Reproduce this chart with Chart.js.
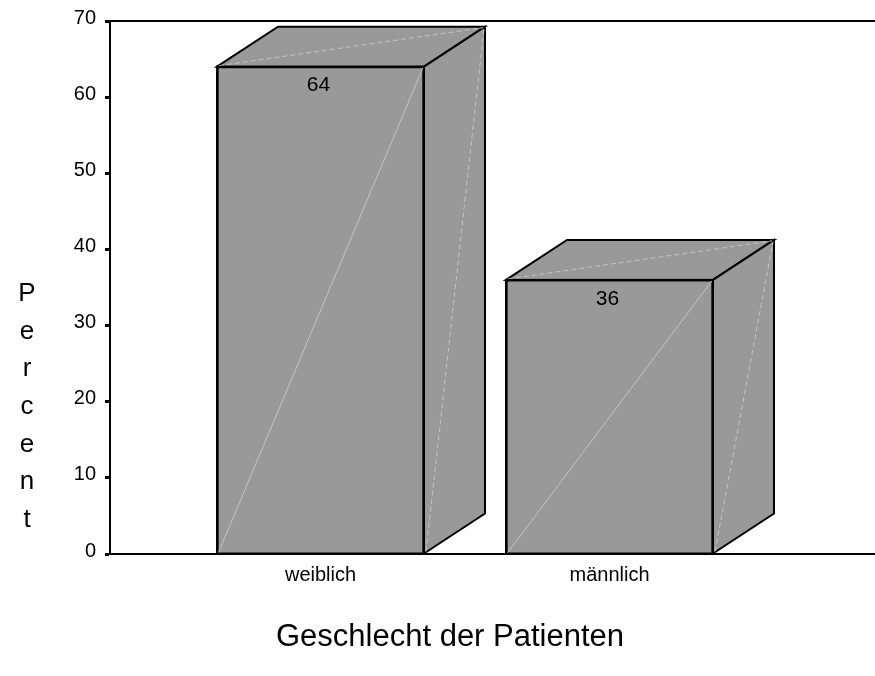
<!DOCTYPE html>
<html>
<head>
<meta charset="utf-8">
<script src="https://cdn.jsdelivr.net/npm/chart.js@4"></script>
<style>
  html, body { margin: 0; padding: 0; background: #fff; }
  #wrap { width: 875px; height: 676px; }
</style>
</head>
<body>
<div id="wrap"><canvas id="chart" width="875" height="676"></canvas></div>
<script>
const categories = ['weiblich', 'männlich'];
const percentValues = [64, 36];
const yTicks = [0, 10, 20, 30, 40, 50, 60, 70];
const yTitle = 'Percent';
const xTitle = 'Geschlecht der Patienten';

const FONT = "'Liberation Sans', Arial, sans-serif";
const DEPTH_X = 61;
const DEPTH_Y = -40;

// 3D-Quader: Deckfläche, Seitenfläche, helle Diagonalen, Wertbeschriftung
const box3d = {
  id: 'box3d',
  afterDatasetsDraw(chart) {
    const ctx = chart.ctx;
    const meta = chart.getDatasetMeta(0);
    meta.data.forEach((bar, i) => {
      const { x, y, base, width } = bar.getProps(['x', 'y', 'base', 'width'], true);
      const l = x - width / 2;
      const r = x + width / 2;
      ctx.save();
      ctx.fillStyle = '#999999';
      ctx.strokeStyle = '#000';
      ctx.lineWidth = 2;

      // Deckfläche
      ctx.beginPath();
      ctx.moveTo(l, y);
      ctx.lineTo(l + DEPTH_X, y + DEPTH_Y);
      ctx.lineTo(r + DEPTH_X, y + DEPTH_Y);
      ctx.lineTo(r, y);
      ctx.closePath();
      ctx.fill();
      ctx.stroke();

      // Seitenfläche
      ctx.beginPath();
      ctx.moveTo(r, y);
      ctx.lineTo(r + DEPTH_X, y + DEPTH_Y);
      ctx.lineTo(r + DEPTH_X, base + DEPTH_Y);
      ctx.lineTo(r, base);
      ctx.closePath();
      ctx.fill();
      ctx.stroke();

      // helle Diagonalen
      ctx.lineWidth = 1;
      ctx.strokeStyle = '#c4c4c4';
      ctx.beginPath();
      ctx.moveTo(l + 1, base);
      ctx.lineTo(r - 1, y + 1);
      ctx.stroke();
      ctx.setLineDash([5, 3]);
      ctx.beginPath();
      ctx.moveTo(l + 2, y - 1);
      ctx.lineTo(r + DEPTH_X - 2, y + DEPTH_Y + 1);
      ctx.stroke();
      ctx.beginPath();
      ctx.moveTo(r + 2, base - 2);
      ctx.lineTo(r + DEPTH_X - 1, y + DEPTH_Y + 2);
      ctx.stroke();
      ctx.setLineDash([]);

      // Kanten nachziehen
      ctx.strokeStyle = '#000';
      ctx.lineWidth = 2;
      ctx.strokeRect(l, y, width, base - y);

      ctx.fillStyle = '#000';
      ctx.font = '21px ' + FONT;
      ctx.textAlign = 'center';
      ctx.textBaseline = 'middle';
      ctx.fillText(String(percentValues[i]), x - 2, y + 19);
      ctx.restore();
    });
  },
  afterDraw(chart) {
    const ctx = chart.ctx;
    ctx.save();
    ctx.fillStyle = '#000';
    ctx.textAlign = 'center';
    ctx.textBaseline = 'middle';
    ctx.font = '26px ' + FONT;
    yTitle.split('').forEach((ch, i) => {
      ctx.fillText(ch, 27, 294 + i * 37.6);
    });
    ctx.font = '31px ' + FONT;
    ctx.fillText(xTitle, 450, 637);
    ctx.restore();
  }
};

new Chart(document.getElementById('chart'), {
  type: 'bar',
  data: {
    datasets: [{
      data: percentValues.map((v, i) => ({ x: i + 1, y: v })),
      backgroundColor: '#999999',
      borderColor: '#000',
      borderWidth: 2,
      borderSkipped: 'bottom',
      barThickness: 207
    }]
  },
  options: {
    responsive: false,
    animation: false,
    layout: { padding: 0 },
    plugins: { legend: { display: false }, tooltip: { enabled: false } },
    scales: {
      x: {
        type: 'linear',
        position: 'bottom',
        offset: false,
        min: 0.2716,
        max: 2.9187,
        afterBuildTicks: s => { s.ticks = categories.map((c, i) => ({ value: i + 1 })); },
        afterFit: s => { s.height = 122; },
        grid: { display: false, drawTicks: false, offset: false },
        border: { display: true, color: '#000', width: 2 },
        ticks: {
          padding: 9,
          color: '#000',
          font: { family: FONT, size: 20 },
          callback: v => categories[v - 1]
        }
      },
      xTop: {
        type: 'linear',
        position: 'top',
        offset: false,
        min: 0,
        max: 1,
        afterFit: s => { s.height = 20; },
        grid: { display: false, drawTicks: false },
        border: { display: true, color: '#000', width: 2 },
        ticks: { display: false }
      },
      y: {
        min: 0,
        max: 70,
        afterBuildTicks: s => { s.ticks = yTicks.map(v => ({ value: v })); },
        afterFit: s => { s.width = 110; },
        grid: { drawOnChartArea: false, drawTicks: true, tickLength: 5, tickWidth: 3, color: '#000' },
        border: { display: true, color: '#000', width: 2 },
        ticks: {
          padding: 9,
          labelOffset: -3,
          color: '#000',
          font: { family: FONT, size: 20 }
        }
      }
    }
  },
  plugins: [box3d]
});
</script>
</body>
</html>
